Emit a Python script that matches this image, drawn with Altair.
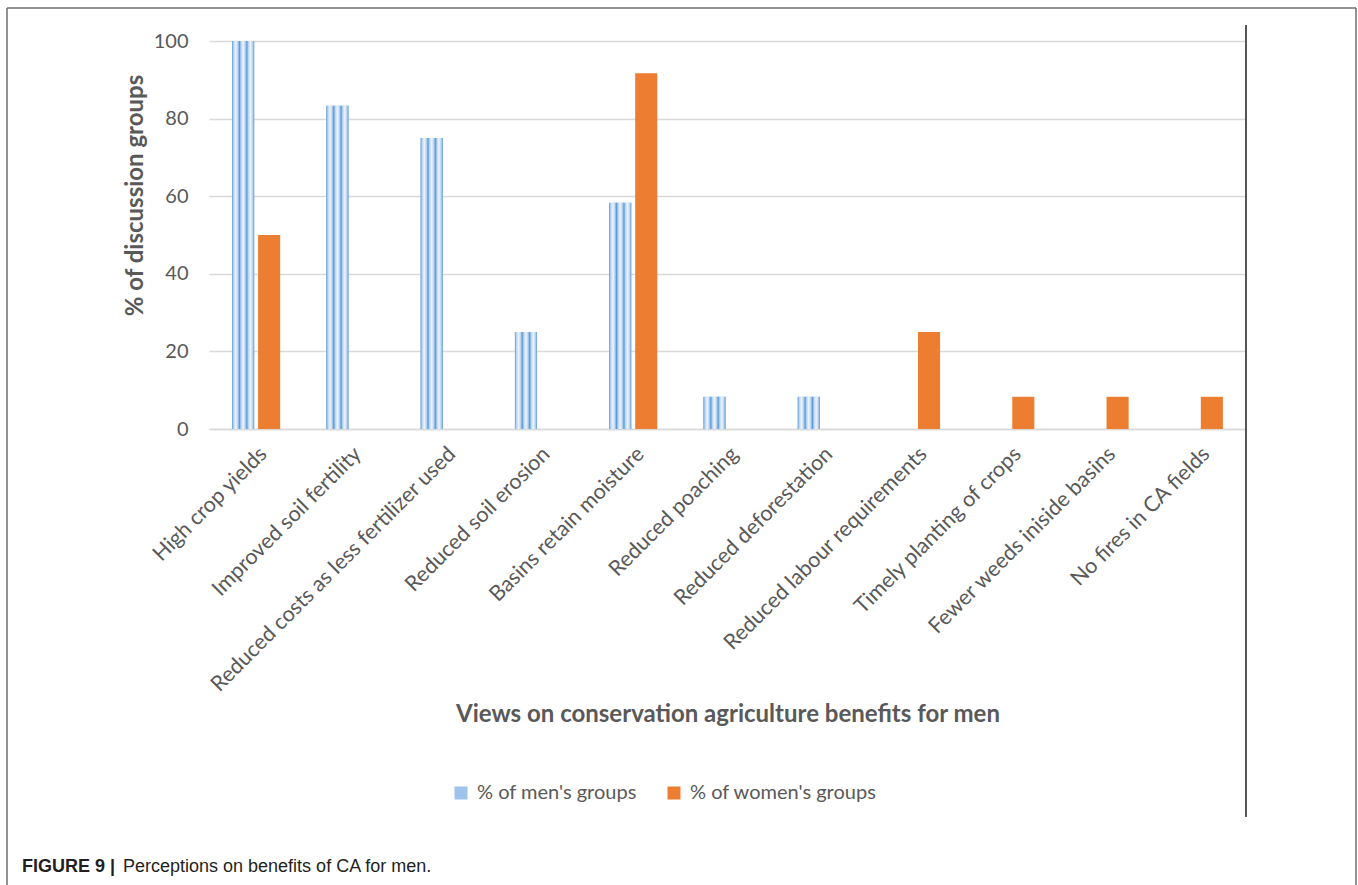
import altair as alt
import pandas as pd

# Benefits named in the discussion groups, in display order
categories = [
    "High crop yields",
    "Improved soil fertility",
    "Reduced costs as less fertilizer used",
    "Reduced soil erosion",
    "Basins retain moisture",
    "Reduced poaching",
    "Reduced deforestation",
    "Reduced labour requirements",
    "Timely planting of crops",
    "Fewer weeds iniside basins",
    "No fires in CA fields",
]
men_pct = [100, 83.3, 75, 25, 58.3, 8.3, 8.3, 0, 0, 0, 0]
women_pct = [50, 0, 0, 0, 91.7, 0, 0, 25, 8.3, 8.3, 8.3]
series = ["% of men's groups", "% of women's groups"]
y_ticks = [0, 20, 40, 60, 80, 100]

rows = []
for cat, m, w in zip(categories, men_pct, women_pct):
    rows.append({"category": cat, "series": series[0], "value": m})
    rows.append({"category": cat, "series": series[1], "value": w})
df = pd.DataFrame(rows)
df = df[df["value"] > 0]

TEXT = "#595959"
FONT = "Lato"
W, H = 1037, 388

# light lattice-like fill for the men's bars: thin blue lines across the bar width
stops = []
for k in range(3):
    p = k / 3
    stops += [
        {"offset": p, "color": "#5b9bd5"},
        {"offset": p + 0.07, "color": "#b9d3f0"},
        {"offset": p + 1 / 6, "color": "#eef4fc"},
        {"offset": p + 0.26, "color": "#b9d3f0"},
    ]
stops.append({"offset": 1, "color": "#5b9bd5"})
lattice = {"gradient": "linear", "x1": 0, "x2": 1, "y1": 0, "y2": 0, "stops": stops}

base = alt.Chart(df).encode(
    x=alt.X(
        "category:N",
        sort=categories,
        scale=alt.Scale(paddingInner=0.49, paddingOuter=0.245),
        axis=alt.Axis(
            title="Views on conservation agriculture benefits for men",
            labelAngle=-45,
            labelLimit=600,
            labelPadding=14,
            labelFontSize=21.5,
            ticks=False,
            domainColor="#d9d9d9",
            domainWidth=1.5,
            titleX=W / 2,
            titleY=285,
            titleBaseline="middle",
            titleAlign="center",
        ),
    ),
    xOffset=alt.XOffset("series:N", sort=series, scale=alt.Scale(paddingInner=0.15)),
    y=alt.Y(
        "value:Q",
        scale=alt.Scale(domain=[0, 100], nice=False),
        axis=alt.Axis(
            title="% of discussion groups",
            values=y_ticks,
            ticks=False,
            domain=False,
            labelPadding=21,
            labelFontSize=20,
            gridColor="#d9d9d9",
            gridWidth=1.5,
            titleX=-74,
            titleY=154,
            titleAngle=270,
            titleBaseline="middle",
            titleAlign="center",
        ),
    ),
)

bars = base.mark_bar().encode(
    color=alt.Color(
        "series:N",
        sort=series,
        scale=alt.Scale(domain=series, range=["#9fc3ea", "#ed7d31"]),
        legend=alt.Legend(
            title=None,
            orient="none",
            legendX=242,
            legendY=742,
            direction="horizontal",
            symbolType="square",
            symbolSize=169,
            symbolStrokeWidth=0,
            labelFontSize=20,
            labelFont=FONT,
            labelColor=TEXT,
            labelLimit=400,
            labelOffset=6,
            columnPadding=27,
            padding=0,
        ),
    )
)

men_overlay = base.transform_filter(
    alt.datum.series == series[0]
).mark_bar(fill=lattice)

one = alt.Chart(pd.DataFrame({"k": [0]}))

# outer frame and the chart's right-hand border line
frame_left = one.mark_rule(color="#6e6e6e", strokeWidth=1.5).encode(
    x=alt.value(-202), y=alt.value(-33), y2=alt.value(900)
)
frame_top = one.mark_rule(color="#6e6e6e", strokeWidth=1.5).encode(
    x=alt.value(-202), x2=alt.value(1147), y=alt.value(-33)
)
frame_right = one.mark_rule(color="#6e6e6e", strokeWidth=1.5).encode(
    x=alt.value(1147), y=alt.value(-33), y2=alt.value(900)
)
right_border = one.mark_rule(color="#555555", strokeWidth=2).encode(
    x=alt.value(W), y=alt.value(-16), y2=alt.value(776)
)

caption_head = one.mark_text(
    text="FIGURE 9 |", font="Liberation Sans", fontSize=18, fontWeight="bold",
    color="#231f20", align="left", baseline="alphabetic",
).encode(x=alt.value(-187), y=alt.value(831))
caption_body = one.mark_text(
    text="Perceptions on benefits of CA for men.", font="Liberation Sans",
    fontSize=18, color="#231f20", align="left", baseline="alphabetic",
).encode(x=alt.value(-86), y=alt.value(831))

chart = (
    alt.layer(bars, men_overlay, frame_left, frame_top, frame_right, right_border,
              caption_head, caption_body)
    .properties(
        width=W,
        height=H,
        padding={"left": 209, "top": 41, "right": 112, "bottom": 456},
        autosize=alt.AutoSizeParams(type="none"),
        background="white",
    )
    .configure_view(stroke=None)
    .configure_axis(
        labelFont=FONT,
        labelColor=TEXT,
        titleFont=FONT,
        titleColor=TEXT,
        titleFontSize=24,
        titleFontWeight="bold",
    )
)

chart.save("out.html", embed_options={"renderer": "svg", "actions": False})
